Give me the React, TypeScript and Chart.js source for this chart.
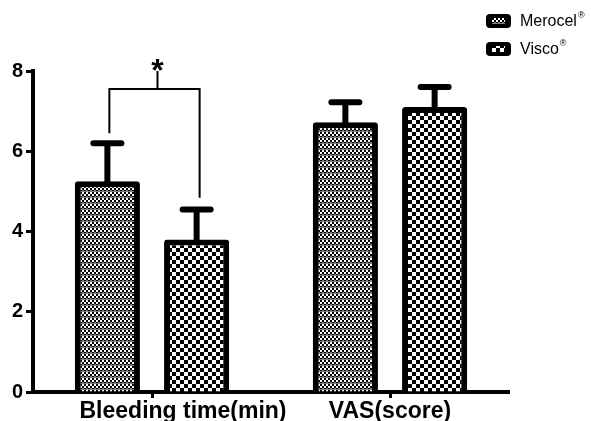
import React, { useEffect, useRef } from 'react';
import { Chart, registerables } from 'chart.js';

Chart.register(...registerables);

const categories = ['Bleeding time(min)', 'VAS(score)'];
const seriesNames = ['Merocel', 'Visco'];
const merocelValues = [5.25, 6.72];
const viscoValues = [3.8, 7.1];
const merocelErrors = [0.95, 0.5];
const viscoErrors = [0.75, 0.5];
const yTicks = [0, 2, 4, 6, 8];
const bracketTop = 7.55;
const bracketLegBottoms = [6.45, 4.84];
const bracketLabel = '*';

const FONT = 'Arial, "Liberation Sans", sans-serif';

function makeChecker(size: number): CanvasPattern | string {
  const c = document.createElement('canvas');
  c.width = size * 2;
  c.height = size * 2;
  const g = c.getContext('2d');
  if (!g) return '#888';
  g.fillStyle = '#ffffff';
  g.fillRect(0, 0, size * 2, size * 2);
  g.fillStyle = '#000000';
  g.fillRect(0, 0, size, size);
  g.fillRect(size, size, size, size);
  return g.createPattern(c, 'repeat') || '#888';
}

function makeFine(): CanvasPattern | string {
  const c = document.createElement('canvas');
  c.width = 4;
  c.height = 6;
  const g = c.getContext('2d');
  if (!g) return '#888';
  g.fillStyle = '#ffffff';
  g.fillRect(0, 0, 4, 6);
  g.fillStyle = '#000000';
  g.fillRect(0, 0, 2, 2);
  g.fillRect(2, 2, 2, 2);
  g.fillRect(0, 4, 2, 1);
  g.fillStyle = '#808080';
  g.fillRect(2, 4, 2, 1);
  g.fillRect(0, 5, 4, 1);
  return g.createPattern(c, 'repeat') || '#888';
}

export default function App() {
  const ref = useRef<HTMLCanvasElement | null>(null);

  useEffect(() => {
    if (!ref.current) return;
    const fine = makeFine();
    const coarse = makeChecker(4);
    const patterns = [fine, coarse];
    const errors = [merocelErrors, viscoErrors];
    const values = [merocelValues, viscoValues];

    const errorBarPlugin = {
      id: 'errorBars',
      afterDatasetsDraw(chart: any) {
        const ctx = chart.ctx;
        const y = chart.scales.y;
        ctx.save();
        ctx.strokeStyle = '#000';
        chart.data.datasets.forEach((_: any, di: number) => {
          const meta = chart.getDatasetMeta(di);
          meta.data.forEach((el: any, i: number) => {
            const top = y.getPixelForValue(values[di][i] + errors[di][i]);
            ctx.lineWidth = 6;
            ctx.lineCap = 'butt';
            ctx.beginPath();
            ctx.moveTo(el.x, el.y + 2);
            ctx.lineTo(el.x, top);
            ctx.stroke();
            ctx.lineCap = 'round';
            ctx.beginPath();
            ctx.moveTo(el.x - 14, top);
            ctx.lineTo(el.x + 14, top);
            ctx.stroke();
          });
        });
        ctx.restore();
      },
    };

    const bracketPlugin = {
      id: 'bracket',
      afterDatasetsDraw(chart: any) {
        const ctx = chart.ctx;
        const y = chart.scales.y;
        const a = chart.getDatasetMeta(0).data[0];
        const b = chart.getDatasetMeta(1).data[0];
        if (!a || !b) return;
        const x1 = a.x + 2;
        const x2 = b.x + 3;
        const yt = y.getPixelForValue(bracketTop);
        ctx.save();
        ctx.strokeStyle = '#000';
        ctx.lineWidth = 2;
        ctx.beginPath();
        ctx.moveTo(x1, y.getPixelForValue(bracketLegBottoms[0]));
        ctx.lineTo(x1, yt);
        ctx.lineTo(x2, yt);
        ctx.lineTo(x2, y.getPixelForValue(bracketLegBottoms[1]));
        ctx.stroke();
        const xm = (x1 + x2) / 2 + 3;
        ctx.beginPath();
        ctx.moveTo(xm, yt);
        ctx.lineTo(xm, yt - 18);
        ctx.stroke();
        ctx.fillStyle = '#000';
        ctx.font = `bold 32px ${FONT}`;
        ctx.textAlign = 'center';
        ctx.textBaseline = 'alphabetic';
        ctx.fillText(bracketLabel, xm, yt - 8);
        ctx.restore();
      },
    };

    const legendPlugin = {
      id: 'customLegend',
      afterDraw(chart: any) {
        const ctx = chart.ctx;
        ctx.save();
        seriesNames.forEach((name, i) => {
          const bx = 486;
          const by = 14 + i * 28;
          ctx.fillStyle = '#000';
          ctx.beginPath();
          (ctx as any).roundRect(bx, by, 25, 14, 4);
          ctx.fill();
          ctx.fillStyle = patterns[i] as any;
          ctx.fillRect(bx + 6, by + 4, 13, 6);
          ctx.fillStyle = '#000';
          ctx.font = `16px ${FONT}`;
          ctx.textAlign = 'left';
          ctx.textBaseline = 'middle';
          ctx.fillText(name, 520, by + 8);
          const w = ctx.measureText(name).width;
          ctx.font = `9px ${FONT}`;
          ctx.fillText('®', 520 + w + 1, by + 2);
        });
        ctx.restore();
      },
    };

    const xLabelPlugin = {
      id: 'xLabels',
      afterDraw(chart: any) {
        const ctx = chart.ctx;
        const x = chart.scales.x;
        const shifts = [31, 0];
        ctx.save();
        ctx.fillStyle = '#000';
        ctx.font = `bold 23px ${FONT}`;
        ctx.textAlign = 'center';
        ctx.textBaseline = 'alphabetic';
        categories.forEach((c, i) => {
          ctx.fillText(c, x.getPixelForValue(i) + shifts[i], 418);
        });
        ctx.restore();
      },
    };

    const barStyle = {
      borderColor: '#000',
      borderWidth: 6,
      borderRadius: 3,
      borderSkipped: 'start',
      categoryPercentage: 0.75,
      barPercentage: 0.73,
    };

    const chart = new Chart(ref.current, {
      type: 'bar',
      data: {
        labels: categories,
        datasets: [
          { label: seriesNames[0], data: merocelValues, backgroundColor: fine as any, ...barStyle },
          { label: seriesNames[1], data: viscoValues, backgroundColor: coarse as any, ...barStyle },
        ],
      },
      options: {
        animation: false,
        responsive: false,
        layout: { padding: { top: 71, right: 82, left: 0, bottom: 0 } },
        plugins: {
          legend: { display: false },
          tooltip: { enabled: false },
        },
        scales: {
          x: {
            offset: true,
            grid: {
              offset: false,
              drawOnChartArea: false,
              drawTicks: true,
              tickLength: 6,
              tickWidth: 3,
              tickColor: '#000',
              color: '#000',
            },
            border: { display: true, color: '#000', width: 4 },
            ticks: { display: false },
            afterFit(scale: any) {
              scale.height = 29;
            },
          },
          y: {
            min: 0,
            max: 8,
            afterBuildTicks(scale: any) {
              scale.ticks = yTicks.map((v) => ({ value: v }));
            },
            grid: {
              drawOnChartArea: false,
              drawTicks: true,
              tickLength: 7,
              tickWidth: 3,
              tickColor: '#000',
              color: '#000',
            },
            border: { display: true, color: '#000', width: 4 },
            ticks: {
              color: '#000',
              padding: 3,
              font: { family: FONT, size: 20, weight: 'bold' },
            },
            afterFit(scale: any) {
              scale.width = 33;
            },
          },
        },
      },
      plugins: [errorBarPlugin, bracketPlugin, legendPlugin, xLabelPlugin],
    } as any);

    return () => {
      chart.destroy();
    };
  }, []);

  return (
    <div style={{ position: 'absolute', left: 0, top: 0, width: 591, height: 421, background: '#fff' }}>
      <canvas ref={ref} width={591} height={421} style={{ display: 'block' }} />
    </div>
  );
}
